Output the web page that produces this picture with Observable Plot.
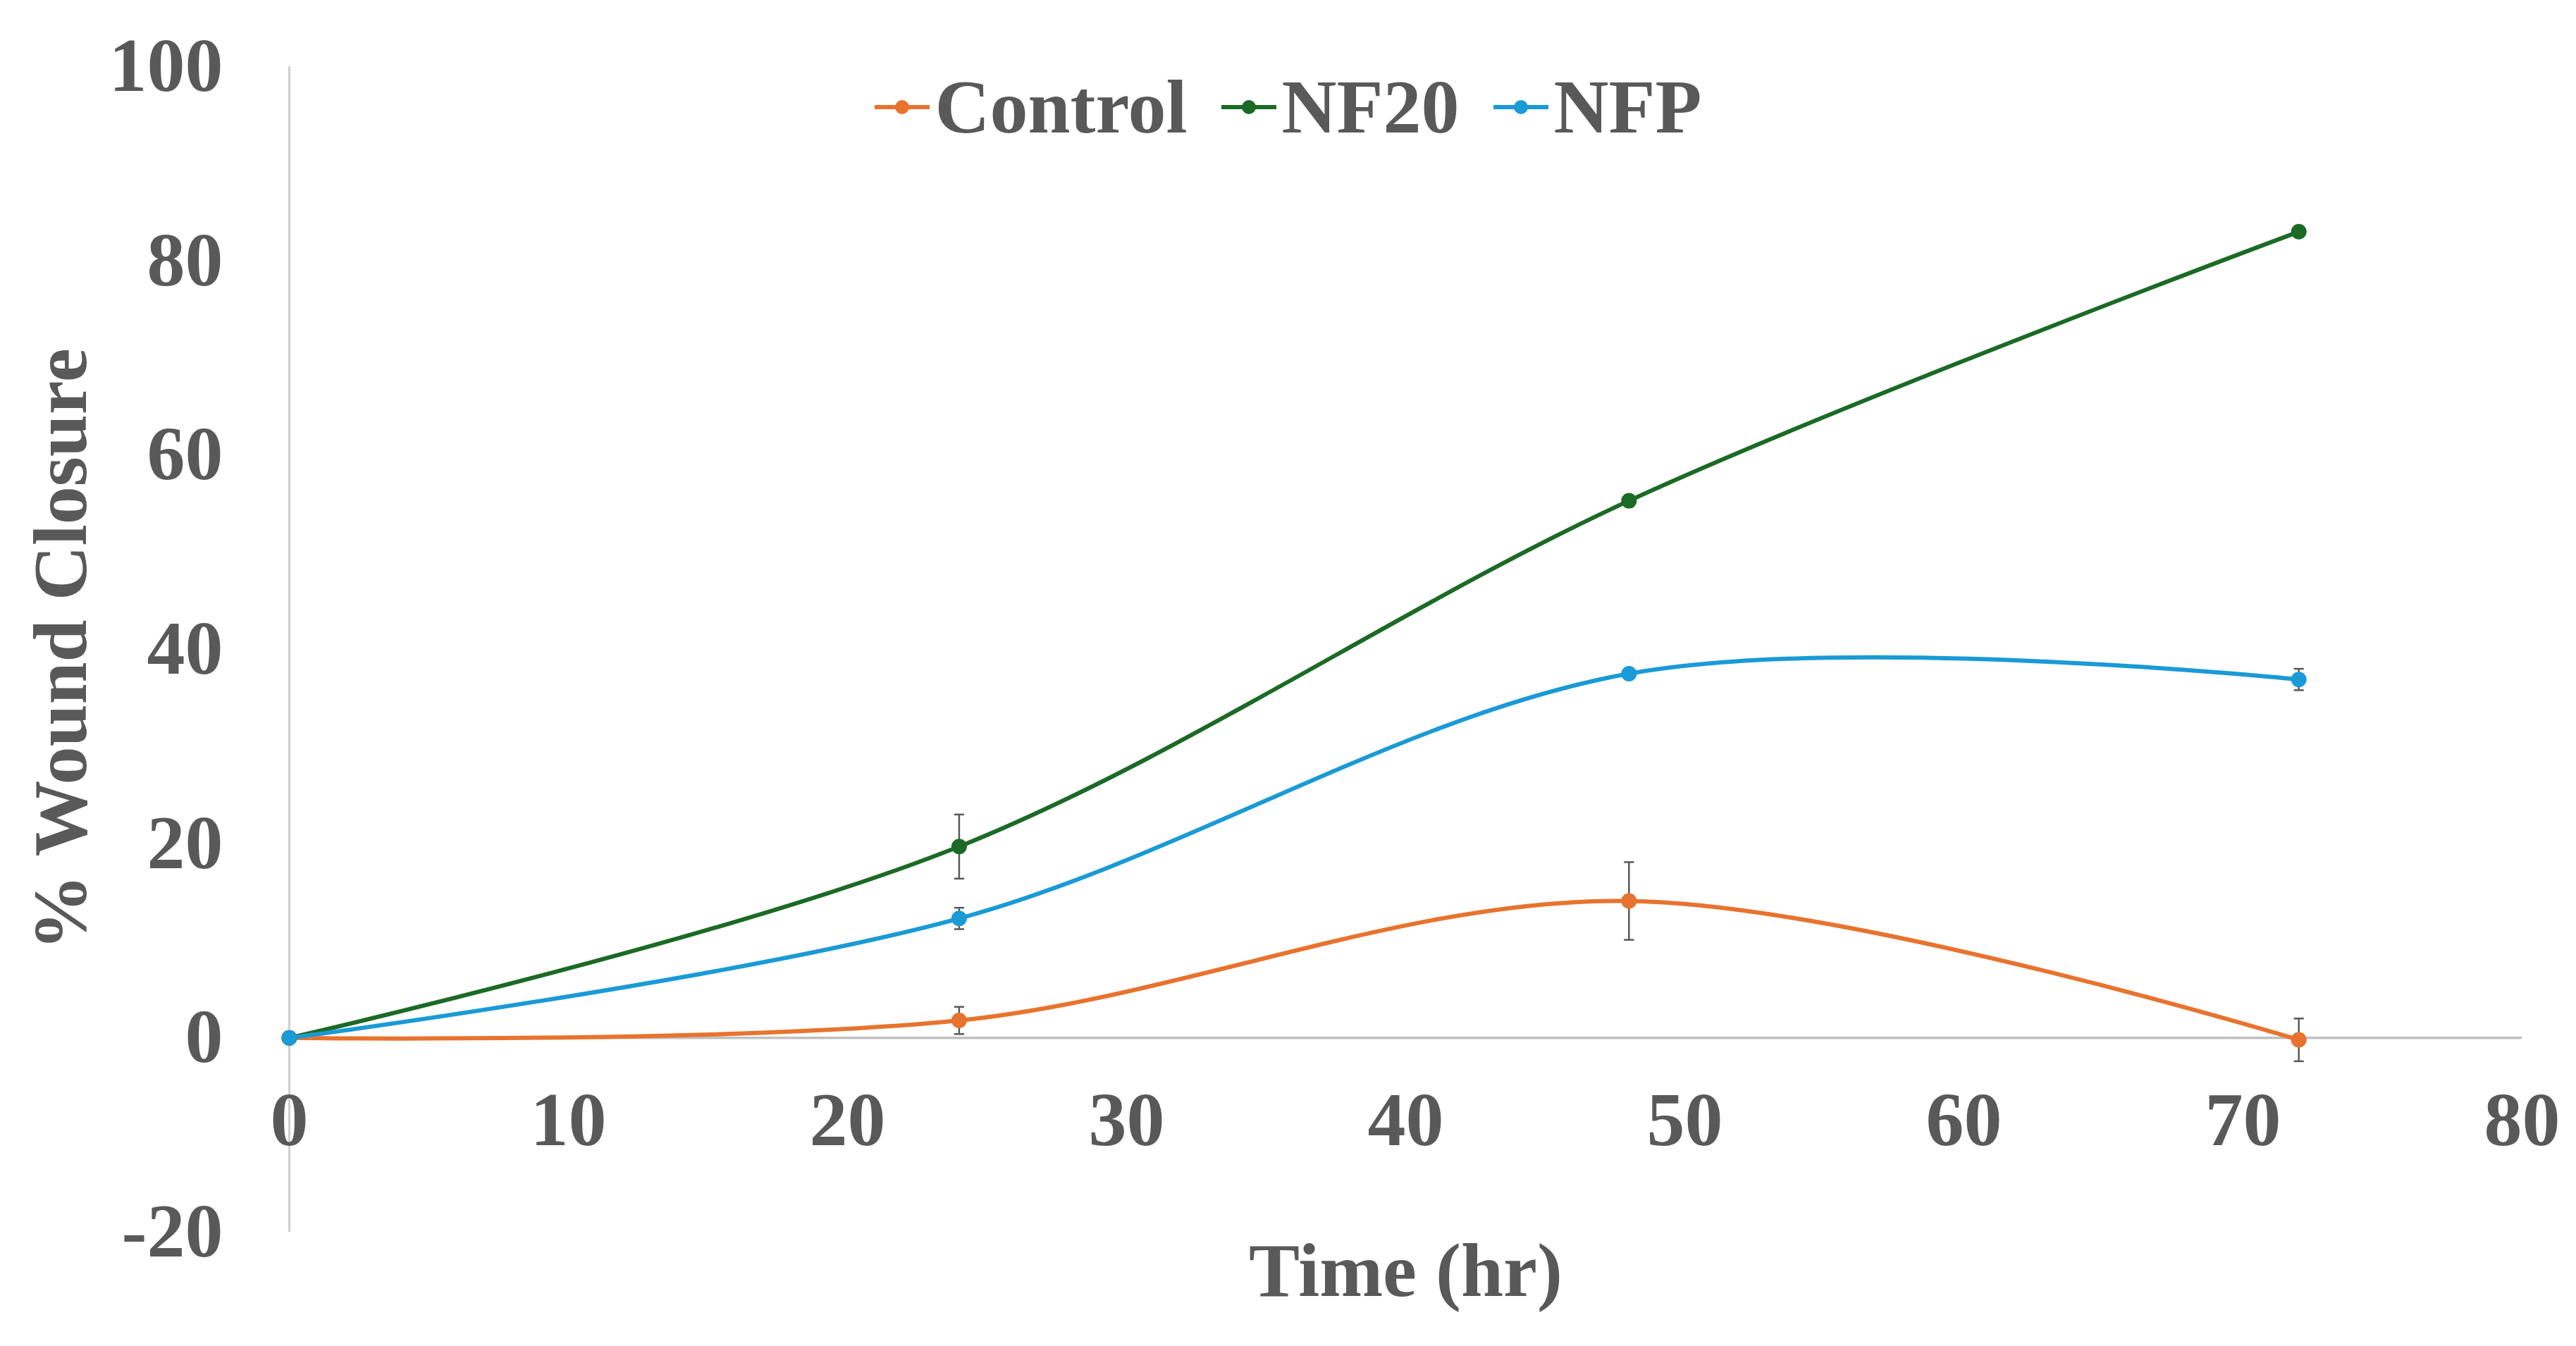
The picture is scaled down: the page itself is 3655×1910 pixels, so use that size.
<!DOCTYPE html>
<html>
<head>
<meta charset="utf-8">
<script src="https://cdn.jsdelivr.net/npm/d3@7"></script>
<script src="https://cdn.jsdelivr.net/npm/@observablehq/plot@0.6"></script>
<style>
  body { margin: 0; background: #ffffff; }
  #wrap { position: relative; width: 3655px; height: 1910px; font-family: "Liberation Serif", "Times New Roman", serif; font-weight: bold; color: #595959; }
  #legend { position: absolute; top: 98px; left: 0px; width: 3655px; height: 108px; display: flex; justify-content: center; align-items: center; font-size: 108px; line-height: 108px; }
  .item { display: flex; align-items: center; margin: 0 24px; }
  .item svg { margin-right: 8px; }
</style>
</head>
<body>
<div id="wrap">
  <div id="chart"></div>
  <div id="legend"></div>
</div>
<script>
// ---- data ----
const hours = [0, 24, 48, 72];
const seriesNames = ["Control", "NF20", "NFP"];
const seriesColors = ["#E8732E", "#1B6A25", "#1A9AD6"];
const controlMean = [0, 1.8, 14.1, -0.2];
const controlErr  = [0, 1.4, 4.0, 2.2];
const nf20Mean    = [0, 19.7, 55.3, 83.0];
const nf20Err     = [0, 3.3, 0.3, 0.3];
const nfpMean     = [0, 12.3, 37.5, 36.9];
const nfpErr      = [0, 1.1, 0.3, 1.1];
const xTicks = [0, 10, 20, 30, 40, 50, 60, 70, 80];
const yTicks = [-20, 0, 20, 40, 60, 80, 100];
const xLabel = "Time (hr)";
const yLabel = "% Wound Closure";

const means = [controlMean, nf20Mean, nfpMean];
const errs = [controlErr, nf20Err, nfpErr];
const rows = seriesNames.flatMap((s, i) => hours.map((h, j) => ({
  series: s, hour: h, value: means[i][j], err: errs[i][j]
})));
const errRows = rows.filter(d => d.err > 0);

const capSymbol = {
  draw(ctx, size) {
    const w = Math.sqrt(size) / 2;
    ctx.moveTo(-w, 0);
    ctx.lineTo(w, 0);
  }
};

const textGray = "#595959";

const chart = Plot.plot({
  width: 3655,
  height: 1910,
  marginLeft: 410,
  marginRight: 77,
  marginTop: 94,
  marginBottom: 162,
  style: { fontFamily: '"Liberation Serif", "Times New Roman", serif', fontWeight: "bold", fontSize: "108px", color: textGray, background: "#ffffff" },
  x: { domain: [0, 80], axis: null },
  y: { domain: [-20, 100], axis: null },
  color: { domain: seriesNames, range: seriesColors },
  marks: [
    Plot.ruleX([0], { stroke: "#CFCFCF", strokeWidth: 3 }),
    Plot.ruleY([0], { stroke: "#BFBFBF", strokeWidth: 3.5 }),
    Plot.axisY({ ticks: yTicks, tickSize: 0, tickPadding: 94, label: null, fontSize: 108, fill: textGray, tickFormat: d => String(d) }),
    Plot.text(xTicks, { x: d => d, y: 0, dy: 118, text: d => String(d), fontSize: 108, fill: textGray }),
    Plot.text([yLabel], { frameAnchor: "left", textAnchor: "middle", dx: -323, rotate: -90, fontSize: 108, fill: textGray }),
    Plot.text([xLabel], { frameAnchor: "bottom", dy: 90, fontSize: 108, fill: textGray }),
    Plot.line(rows, { x: "hour", y: "value", z: "series", stroke: "series", strokeWidth: 6, curve: "cardinal" }),
    Plot.ruleX(errRows, { x: "hour", y1: d => d.value - d.err, y2: d => d.value + d.err, stroke: "#595959", strokeWidth: 2.5 }),
    Plot.dot(errRows, { x: "hour", y: d => d.value - d.err, symbol: capSymbol, r: 8, stroke: "#595959", strokeWidth: 2.5, fill: "none" }),
    Plot.dot(errRows, { x: "hour", y: d => d.value + d.err, symbol: capSymbol, r: 8, stroke: "#595959", strokeWidth: 2.5, fill: "none" }),
    Plot.dot(rows, { x: "hour", y: "value", fill: "series", r: 11, stroke: "none" })
  ]
});
document.getElementById("chart").appendChild(chart);

// legend
const legend = document.getElementById("legend");
seriesNames.forEach((name, i) => {
  const item = document.createElement("div");
  item.className = "item";
  const c = seriesColors[i];
  item.innerHTML = `<svg width="78" height="30" viewBox="0 0 78 30"><line x1="0" y1="15" x2="78" y2="15" stroke="${c}" stroke-width="6"/><circle cx="39" cy="15" r="10" fill="${c}"/></svg><span>${name}</span>`;
  legend.appendChild(item);
});
</script>
</body>
</html>
